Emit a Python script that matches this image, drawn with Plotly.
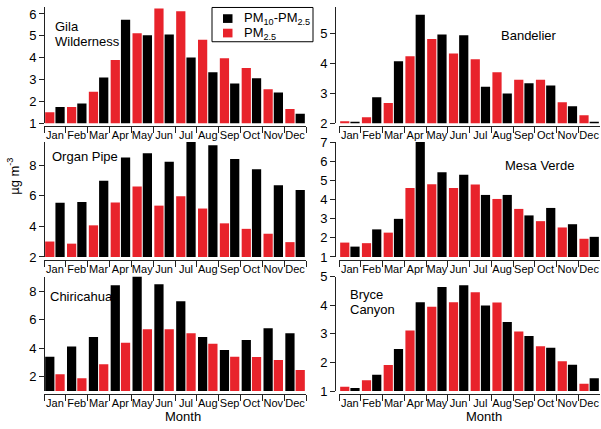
import plotly.graph_objects as go

months = ["Jan", "Feb", "Mar", "Apr", "May", "Jun", "Jul", "Aug", "Sep", "Oct", "Nov", "Dec"]

gila_pm25 = [1.50, 1.74, 2.44, 3.90, 5.12, 6.25, 6.12, 4.82, 3.97, 3.53, 2.56, 1.65]
gila_coarse = [1.74, 1.91, 3.09, 5.74, 5.03, 5.06, 4.01, 3.34, 2.82, 3.06, 2.41, 1.44]
band_pm25 = [2.07, 2.20, 2.68, 4.24, 4.81, 4.33, 4.14, 3.70, 3.45, 3.45, 2.70, 2.27]
band_coarse = [2.05, 2.87, 4.07, 5.62, 4.96, 4.94, 3.22, 2.99, 3.34, 3.26, 2.57, 2.05]
organ_pm25 = [3.01, 2.87, 4.07, 5.57, 6.61, 5.36, 5.97, 5.17, 4.20, 3.84, 3.52, 2.97]
organ_coarse = [5.55, 5.59, 6.99, 8.51, 8.79, 8.24, 9.60, 9.31, 8.41, 7.75, 6.69, 6.38]
mesa_pm25 = [1.75, 1.72, 2.27, 4.60, 4.80, 4.60, 4.78, 4.03, 3.51, 2.87, 2.54, 1.95]
mesa_coarse = [1.54, 2.44, 2.99, 7.00, 5.43, 5.30, 4.24, 4.24, 3.17, 3.56, 2.71, 2.05]
chir_pm25 = [2.18, 1.89, 2.87, 4.38, 5.32, 5.32, 5.05, 4.32, 3.40, 3.38, 3.18, 2.47]
chir_coarse = [3.40, 4.12, 4.78, 8.41, 9.10, 8.48, 7.28, 4.78, 3.87, 4.58, 5.39, 5.05]
bryce_pm25 = [1.15, 1.38, 1.91, 3.12, 3.95, 4.11, 4.46, 4.10, 3.08, 2.57, 2.04, 1.26]
bryce_coarse = [1.11, 1.57, 2.47, 4.11, 4.64, 4.70, 3.99, 3.42, 2.93, 2.52, 1.92, 1.45]

legend_labels = ["PM<sub>10</sub>-PM<sub>2.5</sub>", "PM<sub>2.5</sub>"]

W, H = 601, 429
RED = "#e8232b"
BLACK = "#000000"
FONT = "Liberation Sans, Arial, Helvetica, sans-serif"


def px(x):
    return x / W


def py(y):
    return 1 - y / H


# column: (x_left, x_right, yaxis_x); row: (top, base) in pixels
cols = [(44, 306, 44), (339, 600, 335)]
rows = [(0, 120.5), (140, 259), (279.5, 398)]

panels = [
    dict(col=0, row=0, rng=[1, 6.32], dtick=1, red_first=True, pm=gila_pm25, co=gila_coarse,
         labels=[("Gila", 53, 20.5), ("Wilderness", 53, 35.5)]),
    dict(col=1, row=0, rng=[2, 5.88], dtick=1, red_first=True, pm=band_pm25, co=band_coarse,
         labels=[("Bandelier", 499, 30)]),
    dict(col=0, row=1, rng=[2, 9.52], dtick=2, red_first=True, pm=organ_pm25, co=organ_coarse,
         labels=[("Organ Pipe", 50, 154.5)]),
    dict(col=1, row=1, rng=[1, 7.0], dtick=1, red_first=True, pm=mesa_pm25, co=mesa_coarse,
         labels=[("Mesa Verde", 503, 164.5)]),
    dict(col=0, row=2, rng=[1, 9.0], dtick=2, red_first=False, pm=chir_pm25, co=chir_coarse,
         labels=[("Chiricahua", 48, 300.5)]),
    dict(col=1, row=2, rng=[1, 5.0], dtick=1, red_first=True, pm=bryce_pm25, co=bryce_coarse,
         labels=[("Bryce", 348, 297.5), ("Canyon", 348, 313)]),
]

fig = go.Figure()
layout = {}
annotations = []
shapes = []

for i, p in enumerate(panels, start=1):
    xl, xr, yax = cols[p["col"]]
    top, base = rows[p["row"]]
    xa = "x" if i == 1 else f"x{i}"
    ya = "y" if i == 1 else f"y{i}"
    pm_trace = go.Bar(x=months, y=p["pm"], name=legend_labels[1], marker_color=RED,
                      marker_line_width=0, xaxis=xa, yaxis=ya, showlegend=False,
                      hoverinfo="skip")
    co_trace = go.Bar(x=months, y=p["co"], name=legend_labels[0], marker_color=BLACK,
                      marker_line_width=0, xaxis=xa, yaxis=ya, showlegend=False,
                      hoverinfo="skip")
    if p["red_first"]:
        fig.add_trace(pm_trace)
        fig.add_trace(co_trace)
    else:
        fig.add_trace(co_trace)
        fig.add_trace(pm_trace)

    xkey = "xaxis" if i == 1 else f"xaxis{i}"
    ykey = "yaxis" if i == 1 else f"yaxis{i}"
    layout[xkey] = dict(
        domain=[px(xl), px(xr)], anchor="free", position=py(base + 3),
        type="category", tickson="boundaries", ticks="outside", ticklen=6,
        tickwidth=1, tickcolor="#222", showline=True, linecolor="#222", linewidth=1,
        showgrid=False, zeroline=False, tickangle=0, fixedrange=True,
        ticklabelstandoff=-1,
        tickfont=dict(family=FONT, size=11, color="black"),
    )
    layout[ykey] = dict(
        domain=[py(base), py(top)], anchor="free", position=px(yax),
        range=p["rng"], dtick=p["dtick"], tick0=0, ticks="outside", ticklen=5,
        tickwidth=1, tickcolor="#222", showline=True, linecolor="#222", linewidth=1,
        showgrid=False, zeroline=False, fixedrange=True,
        tickfont=dict(family=FONT, size=13, color="black"),
    )
    for txt, tx, ty in p["labels"]:
        annotations.append(dict(text=txt, x=px(tx), y=py(ty), xref="paper", yref="paper",
                                xanchor="left", yanchor="middle", showarrow=False,
                                font=dict(family=FONT, size=13, color="black")))

# axis titles
annotations.append(dict(text="µg m<sup>-3</sup>", x=px(13), y=py(176), xref="paper", yref="paper",
                        xanchor="center", yanchor="middle", textangle=-90, showarrow=False,
                        font=dict(family=FONT, size=13, color="black")))
for mx in (183, 484):
    annotations.append(dict(text="Month", x=px(mx), y=py(424), xref="paper", yref="paper",
                            xanchor="center", yanchor="middle", showarrow=False,
                            font=dict(family=FONT, size=13, color="black")))

# legend box (drawn in the top-left panel)
shapes.append(dict(type="rect", xref="paper", yref="paper", x0=px(212), x1=px(313),
                   y0=py(36), y1=py(0.5), line=dict(color="black", width=1),
                   fillcolor="white", layer="above"))
for color, label, cy in ((BLACK, legend_labels[0], 12), (RED, legend_labels[1], 27)):
    shapes.append(dict(type="rect", xref="paper", yref="paper", x0=px(223), x1=px(232.5),
                       y0=py(cy + 4.5), y1=py(cy - 4.5), line=dict(width=0),
                       fillcolor=color, layer="above"))
    annotations.append(dict(text=label, x=px(242), y=py(cy), xref="paper", yref="paper",
                            xanchor="left", yanchor="middle", showarrow=False,
                            font=dict(family=FONT, size=13, color="black")))

fig.update_layout(
    width=W, height=H,
    margin=dict(l=0, r=0, t=0, b=0, pad=0),
    paper_bgcolor="white", plot_bgcolor="white",
    barmode="group", bargap=0.06, bargroupgap=0.1,
    showlegend=False,
    annotations=annotations,
    shapes=shapes,
    **layout,
)

fig.write_html("out.html", config={"displayModeBar": False},
               post_script="document.body.style.margin='0';document.body.style.padding='0';")
